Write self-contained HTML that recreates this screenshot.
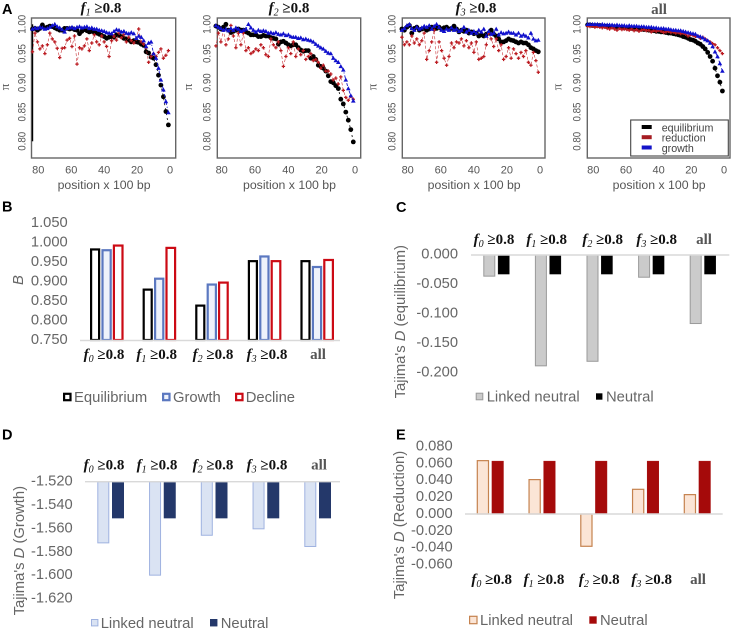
<!DOCTYPE html>
<html lang="en">
<head>
<meta charset="utf-8">
<title>Pi, B and Tajima's D panels</title>
<style>
html,body{margin:0;padding:0;background:#fff;}
svg{display:block;font-family:"Liberation Sans",sans-serif;filter:blur(0.3px);}
</style>
</head>
<body>
<svg id="fig" width="733" height="629" viewBox="0 0 733 629" xmlns="http://www.w3.org/2000/svg"></svg>
<script>
// Panel A data: values at consecutive window positions, closest to the selected site first
const piTicks = [1.00, 0.95, 0.90, 0.85, 0.80];
const piTickLabels = ['1.00', '0.95', '0.90', '0.85', '0.80'];
const posTicks = [80, 60, 40, 20, 0];
const windowStart = 1;
const windowStep = 1.5;

const f1Equilibrium = [.828,.851,.876,.896,.913,.931,.942,.944,.951,.953,.964,.966,.969,.970,.972,.970,.973,.975,.976,.979,.981,.982,.978,.979,.978,.976,.979,.981,.983,.985,.986,.988,.987,.989,.991,.988,.984,.990,.991,.993,.992,.993,.993,.990,.990,.992,.994,.996,.997,.995,.994,.999,.993,.990,.993,.992];
const f1Reduction = [.955,.947,.942,.958,.952,.945,.950,.945,.935,.960,.966,.970,.992,.975,.968,.972,.978,.970,.982,.977,.985,.973,.980,.972,.945,.962,.970,.980,.965,.970,.982,.968,.955,.975,.963,.958,.960,.932,.980,.962,.976,.973,.960,.959,.943,.959,.970,.975,.985,.965,.950,.963,.958,.970,.985,.953];
const f1Growth = [.849,.868,.888,.905,.925,.942,.950,.970,.968,.962,.972,.978,.980,.976,.984,.986,.984,.985,.988,.987,.990,.991,.988,.984,.985,.986,.988,.989,.990,.992,.992,.994,.993,.996,.995,.994,.996,.995,.993,.995,.994,.993,.987,.991,.994,.996,1.00,.998,.995,.993,.992,.994,.995,.993,.994,.992];

const f2Equilibrium = [.799,.820,.836,.850,.864,.872,.890,.895,.900,.902,.912,.920,.925,.928,.930,.940,.945,.942,.955,.955,.954,.956,.960,.965,.965,.963,.965,.968,.971,.970,.966,.975,.976,.977,.980,.980,.981,.979,.979,.982,.982,.982,.985,.987,.990,.990,.992,.990,.988,.986,.990,1.00,.995,.992,.995,.997];
const f2Reduction = [.872,.877,.870,.875,.887,.910,.898,.908,.905,.915,.920,.920,.930,.925,.935,.940,.938,.950,.945,.940,.955,.948,.958,.945,.970,.950,.960,.945,.928,.955,.970,.960,.965,.975,.945,.948,.960,.965,.955,.958,.953,.950,.960,.955,.985,.965,.985,.960,.980,.998,.975,.965,.990,.970,.985,.963];
const f2Growth = [.869,.878,.890,.905,.922,.928,.935,.938,.942,.950,.951,.954,.958,.960,.963,.966,.970,.972,.973,.975,.974,.977,.976,.978,.978,.979,.982,.981,.984,.982,.983,.986,.984,.986,.985,.988,.989,.988,.990,.987,.990,.994,1.00,.992,.990,.988,.992,.994,.990,.993,.989,.992,.990,.993,.995,.998];

const f3Equilibrium = [.953,.955,.958,.960,.965,.968,.968,.970,.968,.970,.972,.973,.975,.972,.970,.970,.975,.980,.983,.990,.985,.983,.980,.982,.980,.985,.984,.987,.985,.990,.988,.990,.987,.992,.997,.993,.992,.995,.994,.992,.995,.993,.992,.995,.992,.990,.993,.992,.990,.995,.993,.985,.998,.995,.990,.992];
const f3Reduction = [.918,.938,.952,.930,.935,.955,.945,.952,.942,.950,.958,.942,.960,.945,.940,.965,.955,.975,.962,.975,.985,.965,.945,.942,.940,.970,.952,.968,.960,.972,.963,.975,.968,.970,.960,.968,.945,.930,.942,.955,.970,.935,.990,.970,.955,.940,.985,.972,.965,.975,.968,.980,.965,.970,.965,.978];
const f3Growth = [.973,.972,.975,.985,.977,.980,.982,.980,.985,.982,.985,.985,.987,.985,.984,.986,.982,.992,.985,.983,.988,.980,.992,.987,.990,.985,.988,.985,.990,.987,.995,.990,.988,.992,.990,.994,.990,.992,.988,.990,.995,1.00,.997,.992,.998,.995,.997,.994,.992,.995,.990,.993,1.00,.998,.993,.990];

const allEquilibrium = [.886,.901,.912,.925,.937,.945,.952,.958,.962,.966,.968,.971,.973,.974,.976,.978,.979,.981,.982,.983,.984,.985,.985,.986,.987,.987,.988,.988,.989,.989,.990,.991,.991,.992,.992,.992,.993,.993,.994,.994,.994,.995,.995,.995,.996,.996,.996,.997,.997,.997,.998,.998,.998,.998,.999,.999];
const allReduction = [.950,.955,.960,.965,.967,.970,.972,.975,.978,.976,.980,.979,.981,.982,.980,.983,.985,.984,.986,.985,.987,.986,.988,.987,.986,.988,.990,.988,.989,.987,.990,.989,.991,.990,.988,.991,.989,.992,.990,.991,.992,.991,.993,.990,.992,.994,.992,.993,.995,.994,.995,.996,.995,.997,.996,.997];
const allGrowth = [.920,.933,.945,.953,.962,.968,.972,.974,.977,.979,.980,.983,.984,.985,.986,.987,.988,.989,.989,.990,.990,.991,.992,.992,.993,.993,.993,.994,.994,.995,.995,.995,.996,.996,.996,.997,.997,.997,.998,.997,.998,.998,.998,.999,.998,.999,.999,.999,.999,1.00,.999,1.00,1.00,1.00,1.00,1.00];

// Bar panels
const groupSubs = ['0', '1', '2', '3', null];

const bTicks = [1.050, 1.000, 0.950, 0.900, 0.850, 0.800, 0.750];
const bEquilibrium = [.985, .882, .841, .955, .955];
const bGrowth = [.983, .910, .895, .967, .940];
const bDecline = [.995, .989, .900, .955, .958];

const cTicks = [0, -0.05, -0.1, -0.15, -0.2];
const cLinked = [-.0367, -.1887, -.181, -.0385, -.117];
const cNeutral = [-.0327, -.0327, -.0327, -.0327, -.0327];

const dTicks = [-1.52, -1.54, -1.56, -1.58, -1.60, -1.62];
const dLinked = [-1.5727, -1.6003, -1.5662, -1.5607, -1.5758];
const dNeutral = [-1.5513, -1.5513, -1.5513, -1.5513, -1.5513];

const eTicks = [.08, .06, .04, .02, 0, -.02, -.04, -.06];
const eLinked = [.064, .0415, -.039, .030, .0237];
const eNeutral = [.063, .063, .063, .063, .063];

const svg = document.getElementById('fig');
const NS = 'http://www.w3.org/2000/svg';
const GREY = '#666666';

function make(tag, attrs, parent) {
  const el = document.createElementNS(NS, tag);
  for (const k in attrs) el.setAttribute(k, attrs[k]);
  (parent || svg).appendChild(el);
  return el;
}
function named(el, name) {
  
  
  return el;
}
function txt(s, x, y, size, fill, anchor, name, parent) {
  const t = make('text', {x: x, y: y, 'font-size': size, fill: fill, 'text-anchor': anchor || 'start'}, parent);
  t.textContent = s;
  return named(t, name);
}
function rotTxt(s, x, y, size, fill, name, parent) {
  const t = make('text', {x: 0, y: 0, 'font-size': size, fill: fill, 'text-anchor': 'middle', transform: 'translate(' + x + ' ' + y + ') rotate(-90)'}, parent);
  t.textContent = s;
  return named(t, name);
}
function tspan(parent, s, attrs) {
  const ts = make('tspan', attrs || {}, parent);
  ts.textContent = s;
  return ts;
}
// Bold serif group label such as f1 >=0.8, or "all" in grey
function groupLabel(sub, x, y, name, parent) {
  const t = make('text', {x: x, y: y, 'font-size': 15, 'font-family': '"Liberation Serif",serif', 'font-weight': 'bold', 'text-anchor': 'middle', fill: sub === null ? '#555555' : '#111111'}, parent);
  named(t, name);
  if (sub === null) {
    t.textContent = 'all';
  } else {
    tspan(t, 'f', {'font-style': 'italic'});
    tspan(t, sub, {'font-size': 10, dy: 3, 'font-style': 'italic', 'font-weight': 'normal'});
    tspan(t, ' \u22650.8', {dy: -3});
  }
  return t;
}
function italicAxis(before, mid, after, x, y, name, parent) {
  const t = make('text', {x: 0, y: 0, 'font-size': 14.8, fill: GREY, 'text-anchor': 'middle', transform: 'translate(' + x + ' ' + y + ') rotate(-90)'}, parent);
  named(t, name);
  tspan(t, before);
  tspan(t, mid, {'font-style': 'italic'});
  tspan(t, after);
  return t;
}

// ---------- Panel A ----------
function piPanel(cfg) {
  const g = make('g', {});
  named(g, cfg.name);
  const xOf = function (p) { return cfg.x0 + (cfg.x80 - cfg.x0) * p / 80; };
  const yOf = function (v) { return 24.3 + (1 - v) * 585; };
  const posOf = function (i) { return windowStart + i * windowStep; };

  const frame = make('rect', {x: cfg.left, y: 18, width: cfg.right - cfg.left, height: 140, fill: '#fff', stroke: '#666666', 'stroke-width': 1.4}, g);
  named(frame, 'plot-frame');

  if (cfg.heavyAxis) {
    const ax = make('line', {x1: cfg.left + 1, x2: cfg.left + 1, y1: yOf(1), y2: yOf(0.8), stroke: '#000', 'stroke-width': 1.4}, g);
    named(ax, 'y-axis-line');
  }

  piTicks.forEach(function (v, i) {
    const lab = rotTxt(piTickLabels[i], cfg.tickX, yOf(v), 11, '#555555', 'y-tick-label', g);
    lab.setAttribute('textLength', '19');
    lab.setAttribute('lengthAdjust', 'spacingAndGlyphs');
  });
  posTicks.forEach(function (p) {
    txt(String(p), xOf(p), 173.5, 11, '#555555', 'middle', 'x-tick-label', g);
  });
  txt('position x 100 bp', (cfg.left + cfg.right) / 2 + 0.5, 189, 12.3, '#555555', 'middle', 'x-axis-title', g);
  const pi = rotTxt('\u03c0', cfg.piX, 87, 13, '#555555', 'y-axis-title', g);
  pi.setAttribute('font-family', '"Liberation Serif",serif');
  if (cfg.sub === null) {
    groupLabel(null, cfg.titleX, 14, 'panel-title', g);
  } else {
    groupLabel(cfg.sub, cfg.titleX, 12.5, 'panel-title', g);
  }

  function linePts(vals) {
    return vals.map(function (v, i) { return xOf(posOf(i)).toFixed(1) + ',' + yOf(v).toFixed(1); }).join(' ');
  }
  // equilibrium
  const gE = make('g', {}, g);
  named(gE, 'equilibrium-series');
  make('polyline', {points: linePts(cfg.eq), fill: 'none', stroke: '#000', 'stroke-width': 0.8, 'stroke-dasharray': '2 3'}, gE);
  cfg.eq.forEach(function (v, i) {
    make('circle', {cx: xOf(posOf(i)).toFixed(1), cy: yOf(v).toFixed(1), r: 2.4, fill: '#000'}, gE);
  });
  // reduction
  const gR = make('g', {}, g);
  named(gR, 'reduction-series');
  make('polyline', {points: linePts(cfg.red), fill: 'none', stroke: '#c22026', 'stroke-width': 0.55, 'stroke-dasharray': '3 2'}, gR);
  cfg.red.forEach(function (v, i) {
    const x = xOf(posOf(i)), y = yOf(v);
    make('path', {d: 'M' + (x - 1.7).toFixed(1) + ' ' + y.toFixed(1) + 'h3.4M' + x.toFixed(1) + ' ' + (y - 1.7).toFixed(1) + 'v3.4', stroke: '#bb1a20', 'stroke-width': 1.25, fill: 'none'}, gR);
  });
  // growth
  const gB = make('g', {}, g);
  named(gB, 'growth-series');
  make('polyline', {points: linePts(cfg.gro), fill: 'none', stroke: '#1414c8', 'stroke-width': 0.9, 'stroke-dasharray': '3 2 1 2'}, gB);
  cfg.gro.forEach(function (v, i) {
    const x = xOf(posOf(i)), y = yOf(v);
    make('path', {d: 'M' + x.toFixed(1) + ' ' + (y - 2.4).toFixed(1) + 'l2.3 4.1h-4.6z', fill: '#1010cc'}, gB);
  });
  return g;
}

piPanel({name: 'pi-panel-f1', sub: '1', left: 31.5, right: 175.7, x0: 170, x80: 38.3, tickX: 25.5, piX: 9, titleX: 101, heavyAxis: true, eq: f1Equilibrium, red: f1Reduction, gro: f1Growth});
piPanel({name: 'pi-panel-f2', sub: '2', left: 217.3, right: 360.7, x0: 355, x80: 221.7, tickX: 210.5, piX: 192, titleX: 289, eq: f2Equilibrium, red: f2Reduction, gro: f2Growth});
piPanel({name: 'pi-panel-f3', sub: '3', left: 402.3, right: 545, x0: 540, x80: 407.7, tickX: 395.5, piX: 376.5, titleX: 476, eq: f3Equilibrium, red: f3Reduction, gro: f3Growth});
const allPanel = piPanel({name: 'pi-panel-all', sub: null, left: 587.3, right: 730, x0: 724, x80: 593.3, tickX: 580.5, piX: 561.5, titleX: 659, eq: allEquilibrium, red: allReduction, gro: allGrowth});

// Panel A legend
const legendA = make('g', {}, allPanel);
named(legendA, 'pi-legend');
make('rect', {x: 630.7, y: 120, width: 97.6, height: 36, fill: '#fff', stroke: '#444', 'stroke-width': 1.1}, legendA);
[['equilibrium', '#000', 127], ['reduction', '#a51c22', 137.2], ['growth', '#1414c8', 147.5]].forEach(function (e) {
  const sw = make('rect', {x: 641.7, y: e[2] - 2, width: 10, height: 4, fill: e[1]}, legendA);
  named(sw, 'legend-swatch');
  txt(e[0], 661.7, e[2] + 4.5, 10.7, '#444444', 'start', 'legend-entry', legendA);
});

// ---------- Bar panels ----------
function hline(g, x1, x2, y) {
  const l = make('line', {x1: x1, x2: x2, y1: y, y2: y, stroke: '#d9d9d9', 'stroke-width': 1.4}, g);
  named(l, 'baseline');
}
function bar(g, x, w, y0, y1, fill, stroke, sw, name) {
  const top = Math.min(y0, y1), h = Math.abs(y1 - y0);
  const r = make('rect', {x: x + sw / 2, y: top + sw / 2 - (y1 < y0 ? 0 : sw / 2), width: w - sw, height: Math.max(h - sw / 2, 0), fill: fill, stroke: stroke, 'stroke-width': sw}, g);
  named(r, name);
}
function legendBox(g, x, y, w, fill, stroke, sw, label, tx) {
  const r = make('rect', {x: x + sw / 2, y: y - w / 2 + sw / 2, width: w - sw, height: w - sw, fill: fill, stroke: stroke, 'stroke-width': sw}, g);
  named(r, 'legend-swatch');
  txt(label, tx, y + 5.2, 14.8, GREY, 'start', 'legend-entry', g);
}

// Panel letters
[['A', 2, 14], ['B', 2, 211.5], ['C', 396, 212], ['D', 2, 439.3], ['E', 396, 439.3]].forEach(function (p) {
  const t = txt(p[0], p[1], p[2], 14.5, '#000', 'start', 'panel-letter');
  t.setAttribute('font-weight', 'bold');
});

// Panel B
(function () {
  const g = make('g', {});
  named(g, 'b-chart');
  const yOf = function (v) { return 340 - (v - 0.75) * 390; };
  bTicks.forEach(function (v) {
    txt(v.toFixed(3), 67.7, yOf(v) + 3.9, 14.7, GREY, 'end', 'y-tick-label', g);
  });
  const b = make('text', {x: 0, y: 0, 'font-size': 14.8, fill: GREY, 'font-style': 'italic', 'text-anchor': 'middle', transform: 'translate(23 280) rotate(-90)'}, g);
  b.textContent = 'B';
  named(b, 'y-axis-title');
  groupSubs.forEach(function (s, i) {
    const left = 90 + i * 52.6;
    bar(g, left, 10.2, 340, yOf(bEquilibrium[i]), '#fff', '#000', 2.2, 'bar-equilibrium');
    bar(g, left + 11.4, 10.4, 340, yOf(bGrowth[i]), '#eef2fb', '#5b78c0', 2.2, 'bar-growth');
    bar(g, left + 22.8, 10.8, 340, yOf(bDecline[i]), '#fff', '#cc0a14', 2.2, 'bar-decline');
  });
  hline(g, 80, 340, 340.5);
  [104, 156.7, 213, 267, 318].forEach(function (x, i) {
    groupLabel(groupSubs[i], x, 359, 'x-category-label', g);
  });
  legendBox(g, 63, 397, 8.6, '#fff', '#000', 2.2, 'Equilibrium', 74);
  legendBox(g, 162, 397, 8.6, '#eef2fb', '#5b78c0', 2.2, 'Growth', 173);
  legendBox(g, 235, 397, 8.6, '#fff', '#cc0a14', 2.2, 'Decline', 245.7);
})();

// Panel C
(function () {
  const g = make('g', {});
  named(g, 'c-chart');
  const yOf = function (v) { return 255 - v * 590; };
  cTicks.forEach(function (v) {
    txt(v === 0 ? '0.000' : v.toFixed(3), 458, yOf(v) + 3.6, 14.7, GREY, 'end', 'y-tick-label', g);
  });
  italicAxis("Tajima's ", 'D', ' (equilibrium)', 405, 321.7, 'y-axis-title', g);
  groupSubs.forEach(function (s, i) {
    const left = 483.3 + i * 51.6;
    bar(g, left, 12, 255, yOf(cLinked[i]), '#cbcbcb', '#9a9a9a', 1, 'bar-linked-neutral');
    bar(g, left + 14.6, 11.6, 255, yOf(cNeutral[i]), '#000', '#000', 0.5, 'bar-neutral');
  });
  hline(g, 471, 729.3, 255);
  [494, 546.7, 602.7, 656.7, 704].forEach(function (x, i) {
    groupLabel(groupSubs[i], x, 244, 'x-category-label', g);
  });
  legendBox(g, 475.7, 396.5, 7.6, '#cbcbcb', '#9a9a9a', 1, 'Linked neutral', 486.7);
  legendBox(g, 596, 396.5, 6.4, '#000', '#000', 0.5, 'Neutral', 606);
})();

// Panel D
(function () {
  const g = make('g', {});
  named(g, 'd-chart');
  const yOf = function (v) { return 481.7 - (v + 1.52) * 1170; };
  dTicks.forEach(function (v) {
    txt(v.toFixed(3), 72.7, yOf(v) + 3.9, 14.7, GREY, 'end', 'y-tick-label', g);
  });
  italicAxis("Tajima's ", 'D', ' (Growth)', 24, 550.7, 'y-axis-title', g);
  groupSubs.forEach(function (s, i) {
    const left = 97.3 + i * 51.75;
    bar(g, left, 12, 481.7, yOf(dLinked[i]), '#dae3f3', '#9fb2e0', 1, 'bar-linked-neutral');
    bar(g, left + 14.7, 12, 481.7, yOf(dNeutral[i]), '#24386a', '#24386a', 0.5, 'bar-neutral');
  });
  hline(g, 85, 340, 481.7);
  [104, 157, 213, 267, 319].forEach(function (x, i) {
    groupLabel(groupSubs[i], x, 469.3, 'x-category-label', g);
  });
  legendBox(g, 91, 622.7, 7.4, '#dae3f3', '#9fb2e0', 1, 'Linked neutral', 100.7);
  legendBox(g, 210, 622.7, 7.4, '#24386a', '#24386a', 0.5, 'Neutral', 220.7);
})();

// Panel E
(function () {
  const g = make('g', {});
  named(g, 'e-chart');
  const yOf = function (v) { return 514 - v * 843; };
  eTicks.forEach(function (v) {
    txt(v === 0 ? '0.000' : v.toFixed(3), 452.7, yOf(v) + 3.9, 14.7, GREY, 'end', 'y-tick-label', g);
  });
  italicAxis("Tajima's ", 'D', ' (Reduction)', 404, 525, 'y-axis-title', g);
  groupSubs.forEach(function (s, i) {
    const left = 476.7 + i * 51.75;
    bar(g, left, 12.4, 514, yOf(eLinked[i]), '#fbe5d6', '#c5824e', 1.2, 'bar-linked-neutral');
    bar(g, left + 15, 12, 514, yOf(eNeutral[i]), '#a50a0a', '#a50a0a', 0.5, 'bar-neutral');
  });
  hline(g, 465, 722.7, 514);
  [491.7, 544, 599.3, 651.7, 698].forEach(function (x, i) {
    groupLabel(groupSubs[i], x, 584, 'x-category-label', g);
  });
  legendBox(g, 469, 620, 8.6, '#fbe5d6', '#c5824e', 1.2, 'Linked neutral', 480);
  legendBox(g, 589.3, 620, 7.4, '#a50a0a', '#a50a0a', 0.5, 'Neutral', 600);
})();
</script>
</body>
</html>
